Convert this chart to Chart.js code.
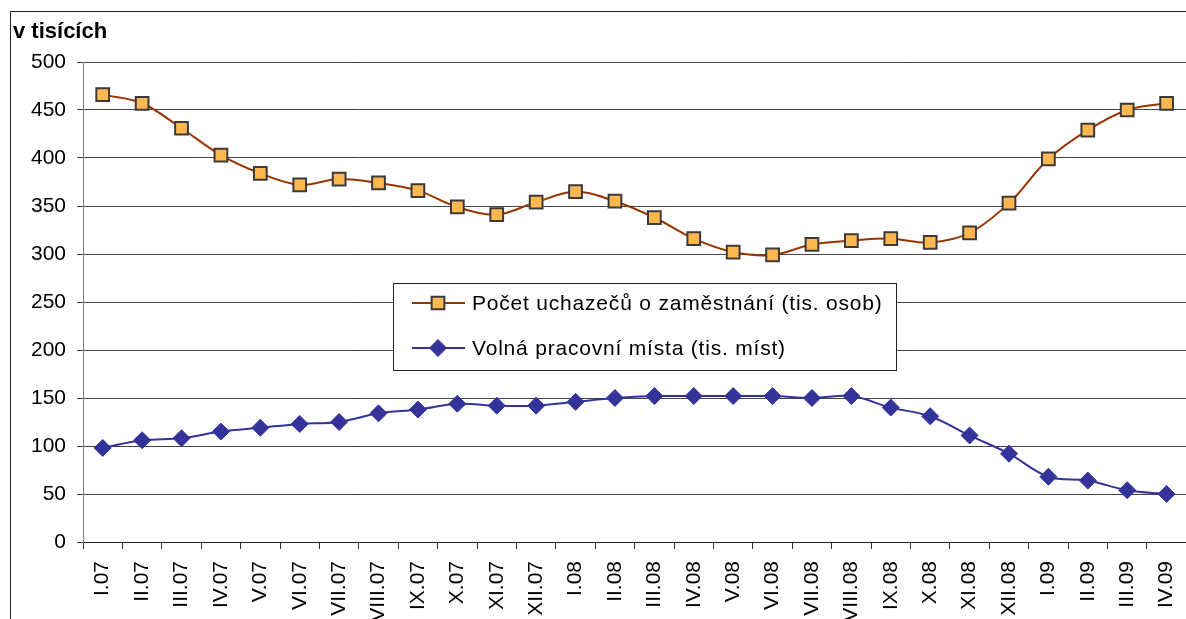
<!DOCTYPE html>
<html>
<head>
<meta charset="utf-8">
<script src="https://cdn.jsdelivr.net/npm/chart.js@4"></script>
<style>
    html, body { margin: 0; padding: 0; background: #fff; overflow: hidden; }
    #wrap { position: relative; width: 1186px; height: 619px; overflow: hidden; }
    #frame {
        position: absolute; left: 10px; top: 11px; width: 2000px; height: 2000px;
        border: 1px solid #222; pointer-events: none;
    }
    canvas { position: absolute; left: 0; top: 0; }
</style>
</head>
<body>
<div id="wrap">
    <canvas id="chart" width="1204" height="640"></canvas>
    <div id="frame"></div>
</div>
<script>
    const months = [
        "I.07", "II.07", "III.07", "IV.07", "V.07", "VI.07", "VII.07", "VIII.07", "IX.07", "X.07", "XI.07", "XII.07",
        "I.08", "II.08", "III.08", "IV.08", "V.08", "VI.08", "VII.08", "VIII.08", "IX.08", "X.08", "XI.08", "XII.08",
        "I.09", "II.09", "III.09", "IV.09",
    ];
    const uchazeci = [
        466, 457, 431, 403, 384, 372, 378, 374, 366, 349, 341, 354,
        365, 355, 338, 316, 302, 299, 310, 314, 316, 312, 322, 353,
        399, 429, 450, 457,
    ];
    const volnaMista = [
        98, 106, 108, 115, 119, 123, 125, 134, 138, 144, 142, 142,
        146, 150, 152, 152, 152, 152, 150, 152, 140, 131, 111, 92,
        68, 64, 54, 50,
    ];
    const labelUchazeci = "Počet uchazečů o zaměstnání (tis. osob)";
    const labelMista = "Volná pracovní místa (tis. míst)";
    const axisTitle = "v tisících";

    const fontFamily = "'Liberation Sans', Arial, sans-serif";

    // title + legend box drawn over the plot, like the Excel original
    const overlayPlugin = {
        id: "overlay",
        afterDraw(chart) {
            const c = chart.ctx;
            c.save();
            c.fillStyle = "#000";
            c.font = "bold 22px " + fontFamily;
            c.textBaseline = "middle";
            c.textAlign = "left";
            c.fillText(axisTitle, 13, 32);

            const bx = 393, by = 283, bw = 503, bh = 87;
            c.fillStyle = "#fff";
            c.fillRect(bx, by, bw, bh);
            c.strokeStyle = "#222";
            c.lineWidth = 1;
            c.strokeRect(bx + 0.5, by + 0.5, bw, bh);

            const rows = [303, 348];
            chart.data.datasets.forEach((ds, i) => {
                const y = rows[i];
                c.strokeStyle = ds.borderColor;
                c.lineWidth = 2;
                c.beginPath();
                c.moveTo(412, y);
                c.lineTo(465, y);
                c.stroke();
                c.fillStyle = ds.pointBackgroundColor;
                c.strokeStyle = ds.pointBorderColor;
                c.lineWidth = ds.pointBorderWidth;
                c.beginPath();
                if (ds.pointStyle === "rect") {
                    const s = ds.pointRadius * Math.SQRT1_2;
                    c.rect(438 - s, y - s, 2 * s, 2 * s);
                } else {
                    const r = ds.pointRadius;
                    c.moveTo(438 - r, y);
                    c.lineTo(438, y - r);
                    c.lineTo(438 + r, y);
                    c.lineTo(438, y + r);
                    c.closePath();
                }
                c.fill();
                c.stroke();
                c.fillStyle = "#000";
                c.font = "21px " + fontFamily;
                c.letterSpacing = "0.8px";
                c.fillText(ds.label, 472, y + 1);
                c.letterSpacing = "0px";
            });
            c.restore();
        },
    };

    const ctx = document.getElementById("chart").getContext("2d");
    new Chart(ctx, {
        type: "line",
        data: {
            labels: months,
            datasets: [
                {
                    label: labelUchazeci,
                    data: uchazeci,
                    borderColor: "#993300",
                    borderWidth: 2,
                    tension: 0.35,
                    pointStyle: "rect",
                    pointRadius: 9,
                    pointBackgroundColor: "#FFB84F",
                    pointBorderColor: "#3a3a3a",
                    pointBorderWidth: 2,
                },
                {
                    label: labelMista,
                    data: volnaMista,
                    borderColor: "#333399",
                    borderWidth: 2,
                    tension: 0.35,
                    pointStyle: "rectRot",
                    pointRadius: 8.5,
                    pointBackgroundColor: "#333399",
                    pointBorderColor: "#333399",
                    pointBorderWidth: 1,
                },
            ],
        },
        options: {
            responsive: false,
            animation: false,
            layout: { padding: { top: 62, right: 0, left: 0, bottom: 0 } },
            plugins: {
                legend: { display: false },
                title: { display: false },
                tooltip: { enabled: false },
            },
            scales: {
                x: {
                    offset: true,
                    grid: {
                        offset: true,
                        drawOnChartArea: false,
                        drawTicks: true,
                        tickLength: 7,
                        color: "#333",
                    },
                    border: { color: "#222", width: 1 },
                    ticks: {
                        autoSkip: false,
                        maxRotation: 90,
                        minRotation: 90,
                        padding: 12,
                        color: "#000",
                        font: { family: fontFamily, size: 21 },
                    },
                    afterFit(scale) {
                        scale.height = 640 - 542;
                    },
                },
                y: {
                    min: 0,
                    max: 500,
                    ticks: {
                        stepSize: 50,
                        padding: 11,
                        color: "#000",
                        font: { family: fontFamily, size: 21 },
                    },
                    grid: {
                        color: "#444",
                        tickLength: 6,
                    },
                    border: { color: "#808080", width: 1 },
                    afterFit(scale) {
                        scale.width = 83;
                    },
                },
            },
        },
        plugins: [overlayPlugin],
    });
</script>
</body>
</html>
